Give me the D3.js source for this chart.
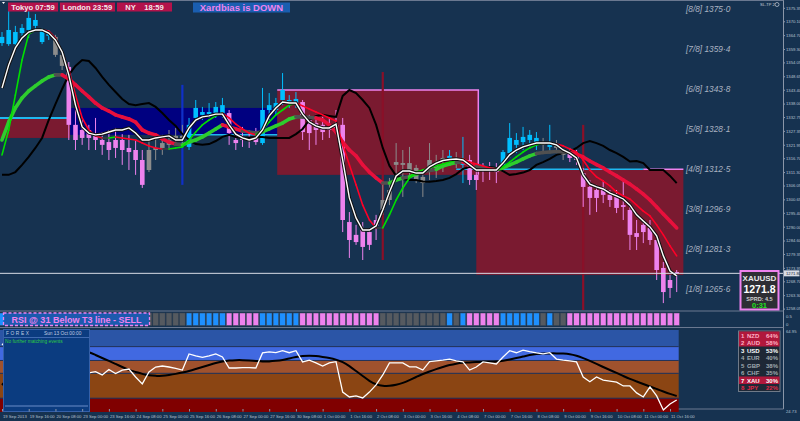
<!DOCTYPE html>
<html><head><meta charset="utf-8">
<script src="https://cdn.jsdelivr.net/npm/d3@7"></script>
<style>body{margin:0;background:#163250;} svg{display:block;font-family:"Liberation Sans",Arial,sans-serif;}</style>
</head><body><svg id="c" width="800" height="421"></svg>
<script>
// ---------------- DATA ----------------
const timeLabels = ["19 Sep 2013","19 Sep 16:00","20 Sep 08:00","23 Sep 00:00","23 Sep 16:00","24 Sep 08:00","25 Sep 00:00","25 Sep 16:00","26 Sep 08:00","27 Sep 00:00","27 Sep 16:00","30 Sep 08:00","1 Oct 00:00","1 Oct 16:00","2 Oct 08:00","3 Oct 00:00","3 Oct 16:00","4 Oct 08:00","7 Oct 00:00","7 Oct 16:00","8 Oct 08:00","9 Oct 00:00","9 Oct 16:00","10 Oct 08:00","11 Oct 00:00","11 Oct 16:00"];

const open  = [1361.6,1361.2,1365.9,1365.5,1366.7,1370.6,1366.7,1364.4,1364.0,1357.0,1352.3,1329.7,1324.6,1327.7,1325.4,1323.8,1323.0,1320.7,1323.8,1320.7,1319.9,1316.0,1312.1,1319.9,1320.7,1321.9,1323.8,1325.4,1321.1,1332.4,1333.6,1333.9,1333.6,1334.3,1334.3,1323.8,1324.6,1325.0,1324.6,1322.6,1335.5,1335.5,1339.4,1338.2,1338.2,1338.6,1331.6,1330.4,1329.7,1328.5,1329.7,1329.7,1291.8,1286.8,1288.7,1287.9,1292.6,1296.5,1300.4,1314.1,1314.8,1312.1,1312.9,1309.4,1312.1,1314.8,1315.2,1316.0,1316.8,1314.1,1316.0,1310.2,1313.7,1312.9,1312.1,1314.1,1318.7,1321.9,1323.0,1323.8,1322.6,1322.6,1321.1,1321.9,1319.1,1318.7,1317.6,1310.9,1305.5,1304.3,1305.1,1302.4,1301.6,1298.4,1296.5,1287.5,1290.7,1289.5,1284.8,1273.9,1269.2,1272.3];
const high  = [1365.9,1374.5,1368.3,1369.0,1374.5,1372.9,1367.5,1366.7,1364.8,1358.1,1354.2,1335.5,1331.6,1329.7,1332.4,1326.9,1327.7,1328.5,1326.1,1325.8,1323.8,1319.9,1323.8,1325.8,1325.8,1327.7,1328.5,1329.7,1332.4,1339.4,1336.7,1338.2,1338.6,1340.2,1335.5,1325.8,1328.9,1327.7,1328.5,1344.1,1342.1,1340.2,1349.9,1341.3,1342.5,1339.4,1333.6,1333.6,1332.8,1332.4,1335.5,1332.4,1295.7,1290.7,1291.8,1289.5,1294.6,1307.0,1309.0,1322.6,1319.9,1321.1,1314.1,1312.1,1322.6,1318.0,1319.9,1319.9,1319.1,1325.0,1318.0,1312.9,1314.8,1315.2,1314.8,1319.9,1330.4,1326.5,1328.9,1327.7,1326.9,1324.6,1329.7,1323.8,1320.7,1320.7,1319.9,1312.9,1308.2,1306.3,1308.2,1304.3,1304.3,1308.2,1298.4,1292.6,1292.6,1292.6,1286.8,1276.2,1271.2,1273.1];
const low   = [1360.5,1360.5,1359.7,1364.4,1363.6,1366.7,1361.2,1362.8,1356.2,1351.1,1323.8,1319.9,1321.9,1319.9,1319.9,1318.0,1316.0,1316.8,1314.1,1312.1,1310.2,1305.1,1311.3,1316.0,1318.0,1319.9,1321.9,1321.9,1319.9,1330.8,1331.6,1332.4,1332.4,1332.4,1321.9,1319.9,1321.1,1320.7,1321.9,1321.9,1331.6,1333.6,1337.4,1336.3,1336.3,1323.8,1319.9,1321.9,1323.8,1324.6,1326.5,1287.9,1277.8,1282.9,1277.0,1280.9,1284.8,1294.6,1298.4,1308.2,1301.6,1309.0,1307.0,1301.6,1308.2,1309.0,1311.3,1314.1,1312.9,1307.0,1306.3,1304.3,1307.4,1308.2,1307.0,1311.3,1316.8,1318.7,1319.9,1320.7,1319.9,1319.1,1319.1,1318.7,1316.0,1315.2,1314.1,1297.7,1294.6,1295.7,1299.2,1297.7,1295.3,1292.6,1280.9,1280.9,1283.6,1282.9,1269.2,1260.2,1262.2,1264.5];
const close = [1364.0,1366.7,1361.2,1367.5,1371.4,1368.3,1362.0,1365.1,1357.0,1352.7,1329.7,1323.8,1327.7,1324.6,1323.8,1321.9,1319.9,1323.8,1319.9,1319.1,1316.0,1306.3,1319.9,1320.7,1322.6,1323.8,1325.4,1324.6,1329.7,1336.3,1334.7,1334.7,1336.7,1337.4,1326.5,1322.6,1323.8,1323.8,1323.0,1335.5,1337.4,1338.2,1343.3,1339.4,1339.8,1326.9,1326.5,1327.7,1326.9,1327.7,1328.5,1292.6,1284.8,1284.0,1282.1,1282.9,1290.3,1300.4,1304.3,1315.2,1314.1,1314.8,1308.2,1307.0,1316.0,1312.1,1316.8,1317.6,1316.0,1316.0,1308.2,1308.2,1312.1,1312.1,1311.3,1319.1,1324.6,1323.8,1325.0,1325.8,1324.6,1321.9,1322.6,1320.7,1318.0,1316.8,1316.0,1305.5,1301.2,1301.2,1302.4,1300.4,1297.3,1297.7,1286.8,1286.0,1287.9,1284.8,1273.1,1264.5,1266.1,1271.8];
// candle / strip state: B = up (blue), P = down (pink), G = neutral (gray)
const barState = "BBBBBBBBGGPPPPPPPPPPPPGGGGGGBBBBBBPPPPPBBBBBBPPPPPPPPPPPPGGGGGGGGGGBGBPPPPPBBBBBBGBGGPPPPPPPPPPPPPPPPP".split("");

const fastLine = [1344.1,1353.0,1359.7,1363.6,1365.9,1366.7,1366.7,1365.5,1362.8,1358.1,1349.2,1337.4,1328.9,1326.5,1325.8,1326.1,1326.9,1327.7,1327.7,1328.5,1326.5,1323.8,1323.8,1324.6,1325.0,1325.4,1323.8,1323.8,1328.5,1331.6,1332.8,1333.2,1333.9,1333.9,1329.7,1326.1,1324.6,1323.8,1324.6,1327.7,1333.2,1336.3,1338.6,1338.2,1338.2,1333.9,1330.8,1329.3,1328.5,1328.5,1330.0,1316.0,1301.2,1293.4,1288.7,1288.7,1290.3,1296.5,1303.5,1309.8,1311.7,1311.7,1310.9,1310.9,1313.3,1314.8,1315.8,1316.2,1316.4,1316.0,1314.1,1312.1,1312.1,1312.1,1312.1,1314.8,1318.0,1319.9,1321.1,1321.9,1322.6,1322.6,1322.6,1321.9,1319.9,1318.7,1316.8,1310.2,1306.6,1305.5,1304.7,1303.1,1302.0,1300.8,1298.4,1294.6,1292.2,1289.9,1286.4,1278.6,1272.7,1270.8];
const thinMA = [1318.0,1327.7,1341.3,1355.0,1365.1,1366.7,1366.7,1366.3,1363.6,1358.1,1351.1,1341.3,1332.4,1327.7,1325.4,1324.6,1324.6,1325.0,1324.6,1324.2,1323.8,1322.6,1321.5,1320.7,1320.3,1320.3,1320.7,1321.1,1323.8,1326.9,1329.7,1331.6,1333.2,1334.3,1332.4,1330.0,1328.1,1326.5,1325.8,1327.7,1330.8,1333.6,1335.5,1337.4,1338.2,1337.1,1335.9,1334.7,1333.6,1332.4,1331.2,1321.9,1314.1,1306.3,1298.4,1292.6,1289.5,1289.5,1294.6,1300.4,1305.1,1309.0,1311.3,1312.1,1312.9,1313.7,1314.4,1315.2,1316.0,1316.4,1315.2,1314.4,1313.7,1312.9,1312.5,1313.3,1315.2,1317.2,1319.1,1320.7,1321.9,1322.6,1322.6,1322.2,1321.5,1320.3,1319.1,1316.0,1312.1,1309.4,1307.8,1305.9,1303.5,1302.0,1300.8,1298.4,1296.1,1294.2,1290.7,1286.8,1282.5,1278.6];
const thickMA = [1323.8,1330.8,1336.3,1340.2,1342.9,1344.9,1346.8,1348.4,1349.2,1349.2,1347.6,1345.3,1342.9,1340.6,1338.2,1336.3,1335.1,1333.6,1332.8,1332.0,1330.8,1327.7,1326.5,1325.8,1324.2,1323.0,1322.2,1321.9,1323.0,1323.8,1325.0,1326.5,1328.1,1329.7,1328.9,1328.1,1327.3,1326.9,1326.5,1327.0,1328.1,1329.3,1330.4,1332.0,1332.8,1332.8,1332.6,1332.4,1331.6,1329.7,1326.9,1323.0,1319.9,1317.6,1314.1,1311.3,1309.0,1307.0,1307.0,1308.2,1309.0,1309.5,1310.5,1311.5,1311.9,1312.3,1313.7,1314.4,1315.0,1315.2,1314.1,1313.5,1313.1,1312.7,1312.3,1312.9,1314.1,1315.2,1316.4,1317.6,1318.5,1318.9,1319.1,1319.3,1319.1,1318.9,1318.3,1317.2,1315.6,1314.2,1312.9,1311.3,1309.8,1308.2,1306.6,1304.7,1302.7,1300.4,1297.7,1294.9,1292.2,1289.5];
const blackLine = [1310.2,1310.2,1311.3,1314.1,1317.2,1320.7,1324.6,1331.6,1337.8,1343.7,1349.2,1352.7,1355.0,1354.6,1351.9,1348.4,1345.3,1342.5,1339.8,1337.8,1337.4,1337.8,1338.2,1336.7,1334.3,1331.6,1329.3,1326.1,1323.8,1322.2,1321.9,1322.2,1323.4,1325.0,1325.8,1325.0,1324.6,1324.8,1325.0,1325.0,1324.6,1324.6,1324.6,1324.6,1326.1,1328.1,1331.6,1333.2,1333.6,1333.2,1332.8,1341.0,1343.3,1342.1,1339.4,1336.3,1329.7,1320.7,1313.7,1309.8,1308.6,1308.2,1308.2,1307.6,1307.5,1307.8,1308.2,1309.0,1310.5,1312.5,1313.3,1312.9,1313.3,1313.3,1312.9,1311.7,1310.2,1310.5,1311.1,1312.1,1314.1,1315.2,1316.4,1318.0,1318.7,1319.3,1320.7,1322.6,1323.4,1322.6,1321.5,1319.9,1318.7,1317.2,1315.4,1315.6,1314.8,1312.1,1312.1,1312.1,1309.8,1307.0];

const rsiValues = [57.6,61.0,59.1,60.0,62.5,61.5,57.6,57.6,52.7,49.3,38.0,40.4,44.4,43.9,44.5,42.9,45.6,43.6,45.3,45.8,41.9,38.5,44.4,46.8,47.3,46.8,46.1,45.3,53.2,52.2,51.5,52.2,53.2,51.7,46.3,46.3,46.5,46.5,46.3,53.7,54.2,53.9,54.8,53.8,54.8,49.3,50.2,48.8,47.3,48.8,49.4,34.5,32.1,32.6,31.6,34.5,38.0,42.9,48.8,48.8,48.8,46.9,46.9,45.3,49.4,49.8,50.2,50.7,49.8,49.3,45.3,46.8,49.3,48.8,48.3,51.7,54.8,53.8,55.1,54.3,53.7,53.2,53.8,50.7,50.2,49.8,49.3,41.9,39.6,41.9,40.4,39.9,39.4,37.5,37.5,34.1,32.1,37.0,32.6,25.7,28.7,30.6];
const rsiSignal = [38.0,41.4,45.3,48.8,51.7,53.7,55.1,56.1,56.6,56.6,56.1,55.6,54.9,54.2,52.7,51.2,49.8,48.3,46.8,45.3,44.4,43.4,42.6,42.4,42.5,42.9,43.4,44.1,44.8,45.8,46.8,47.8,48.8,49.5,50.0,50.2,50.2,50.0,49.8,49.5,49.5,49.8,50.2,51.0,51.7,52.2,52.4,52.2,51.7,51.2,50.5,49.3,47.3,44.8,42.4,39.9,38.2,37.5,37.5,38.0,38.9,40.4,41.9,43.4,44.6,45.8,46.8,47.8,48.5,48.9,49.0,49.3,49.3,49.4,49.5,49.8,50.5,51.2,51.9,52.7,53.2,53.4,53.5,53.5,53.4,53.2,52.4,51.2,49.8,48.3,46.8,45.3,43.9,42.4,40.9,39.7,38.5,37.2,36.0,34.8,33.6,32.6];
const rsiBandLevels = [64.95,56.8,50.0,43.7,31.5,24.73];

const murreyNames  = ["[8/8]","[7/8]","[6/8]","[5/8]","[4/8]","[3/8]","[2/8]","[1/8]"];
const murreyLevels = [1375.0,1359.4,1343.8,1328.1,1312.5,1296.9,1281.3,1265.6];
const priceTicks = [1375.35,1370.10,1364.70,1359.30,1354.05,1348.65,1343.40,1338.00,1332.75,1327.35,1321.95,1316.70,1311.30,1306.05,1300.65,1295.40,1290.00,1284.60,1279.35,1273.95,1268.70,1263.30,1258.05];

// zones: start bar, end bar, top price, bottom price, kind
const zoneStart = [-1, 10.2, 41.2, 71.0];
const zoneEnd   = [10.2, 41.2, 71.3, 102];
const zoneTop   = [1332.4, 1336.3, 1343.3, 1312.4];
const zoneBottom= [1324.6, 1325.8, 1310.2, 1271.2];
const zoneKind  = ["sell","buy","sell","sell"];

const markerBar  = [27, 57, 87];
const markerHigh = [1345.3, 1350.3, 1329.7];
const markerLow  = [1306.3, 1277.0, 1257.5];
const markerKind = ["buy","sell","sell"];

const sessions = ["Tokyo 07:59","London 23:59","NY    18:59"];
const strengthRank = ["1","2","3","4","5","6","7","8"];
const strengthCcy  = ["NZD","AUD","USD","EUR","GBP","CHF","XAU","JPY"];
const strengthPct  = [64,58,53,40,38,35,30,22];

// ---------------- DRAW ----------------
const svg = d3.select("#c");
const BG = "#163250";
svg.append("rect").attr("width",800).attr("height",421).attr("fill",BG);

const n = close.length;
const x = d3.scaleLinear().domain([0,101]).range([2,676.7]);
const y = d3.scaleLinear().domain([1258.05,1375.35]).range([308.6,7.8]);
const yr = d3.scaleLinear().domain([24.73,64.95]).range([412,330]);

svg.append("clipPath").attr("id","mc").append("rect").attr("x",0).attr("y",0).attr("width",783).attr("height",310.5);
const main = svg.append("g").attr("clip-path","url(#mc)");

// zones
zoneStart.forEach((s,k)=>{
  main.append("rect").attr("x",x(s)).attr("y",y(zoneTop[k]))
    .attr("width",x(zoneEnd[k])-x(s)).attr("height",y(zoneBottom[k])-y(zoneTop[k]))
    .attr("fill",zoneKind[k]==="buy"?"#000080":"#7a1a30");
});
main.append("line").attr("x1",x(zoneStart[0])).attr("x2",x(zoneEnd[0])).attr("y1",y(zoneTop[0])).attr("y2",y(zoneTop[0])).attr("stroke","#1fb8f0").attr("stroke-width",2);
main.append("line").attr("x1",x(27)).attr("x2",x(zoneEnd[1])).attr("y1",y(zoneBottom[1])).attr("y2",y(zoneBottom[1])).attr("stroke","#1fb8f0").attr("stroke-width",1.5);
main.append("polyline").attr("points",[[x(zoneStart[2]),y(zoneTop[2])],[x(zoneEnd[2]),y(zoneTop[2])],[x(zoneEnd[2]),y(zoneBottom[2])]].map(p=>p.join(",")).join(" "))
  .attr("fill","none").attr("stroke","#ee82ee").attr("stroke-width",1.5);
main.append("line").attr("x1",x(68)).attr("x2",x(96)).attr("y1",y(zoneTop[3])).attr("y2",y(zoneTop[3])).attr("stroke","#1fb8f0").attr("stroke-width",1.5);
main.append("line").attr("x1",x(96)).attr("x2",x(102)).attr("y1",y(zoneTop[3])).attr("y2",y(zoneTop[3])).attr("stroke","#ee82ee").attr("stroke-width",1.5);

// markers
markerBar.forEach((b,k)=>{
  main.append("line").attr("x1",x(b)).attr("x2",x(b)).attr("y1",y(markerHigh[k])).attr("y2",y(markerLow[k]))
    .attr("stroke",markerKind[k]==="buy"?"#1030c8":"#8a1028").attr("stroke-width",2.2);
});

// candles
const stCol = {B:"#00bfff",P:"#ee82ee",G:"#8c8c8c"};
const cg = main.append("g");
d3.range(n).forEach(i=>{
  const c = stCol[barState[i]];
  cg.append("line").attr("x1",x(i)).attr("x2",x(i)).attr("y1",y(high[i])).attr("y2",y(low[i])).attr("stroke",c).attr("stroke-width",1);
  const t = y(Math.max(open[i],close[i])), b = y(Math.min(open[i],close[i]));
  cg.append("rect").attr("x",x(i)-2.3).attr("y",t).attr("width",4.6).attr("height",Math.max(1,b-t)).attr("fill",c);
});

// lines
const line = d3.line().x((d,i)=>x(i)).y(d=>y(d));
main.append("path").attr("d",line(blackLine)).attr("fill","none").attr("stroke","#000").attr("stroke-width",2);

function slopeLine(vals, w, thr, cols){
  for(let i=0;i<vals.length-1;i++){
    const d = vals[i+1]-vals[i];
    const c = d>thr?cols[0]:(d<-thr?cols[1]:cols[2]);
    main.append("line").attr("x1",x(i)).attr("y1",y(vals[i])).attr("x2",x(i+1)).attr("y2",y(vals[i+1]))
      .attr("stroke",c).attr("stroke-width",w).attr("stroke-linecap","round");
  }
}
slopeLine(thickMA,3.6,0.5,["#2ecc2e","#e8103c","#505050"]);
slopeLine(thinMA,1.6,0.3,["#00e000","#ff0028","#404040"]);
main.append("path").attr("d",line(fastLine)).attr("fill","none").attr("stroke","#111").attr("stroke-width",3.4);
main.append("path").attr("d",line(fastLine)).attr("fill","none").attr("stroke","#fff").attr("stroke-width",1.4);

// bid line
main.append("line").attr("x1",0).attr("x2",783).attr("y1",y(close[n-1])).attr("y2",y(close[n-1])).attr("stroke","#d8dde6").attr("stroke-width",1);

// murrey labels
murreyLevels.forEach((m,k)=>{
  main.append("text").attr("x",686).attr("y",y(m)+3).attr("font-size",8.3).attr("font-style","italic")
    .attr("fill","#aab3c2")
    .text(murreyNames[k]+" "+m.toFixed(1).replace(".","·"));
});

// right price axis
const ax = d3.axisRight(y).tickValues(priceTicks).tickFormat(d3.format(".2f")).tickSize(2);
const axg = svg.append("g").attr("transform","translate(783,0)").call(ax);
axg.select(".domain").remove();
axg.selectAll("line").attr("stroke","#8a96a8");
axg.selectAll("text").attr("font-size",4.2).attr("fill","#b8c2d0").attr("x",3);
// current price label
svg.append("rect").attr("x",784).attr("y",y(close[n-1])-3).attr("width",15.5).attr("height",6).attr("fill","#d8dde6");
svg.append("text").attr("x",786).attr("y",y(close[n-1])+1.6).attr("font-size",4.2).attr("fill","#223").text(close[n-1].toFixed(2));

// frame lines
svg.append("line").attr("x1",783.5).attr("x2",783.5).attr("y1",0).attr("y2",409).attr("stroke","#8a96a8");
[311,327.5,409].forEach(v=>svg.append("line").attr("x1",0).attr("x2",783.5).attr("y1",v).attr("y2",v).attr("stroke","#6a7890"));
svg.append("line").attr("x1",0).attr("x2",783.5).attr("y1",0.5).attr("y2",0.5).attr("stroke","#6a7890");

// session boxes
const sessX=[8,60,117], sessW=[50,55,55];
sessions.forEach((s,k)=>{
  svg.append("rect").attr("x",sessX[k]).attr("y",2.5).attr("width",sessW[k]).attr("height",9).attr("fill","#b3124b");
  svg.append("text").attr("x",sessX[k]+sessW[k]/2).attr("y",10).attr("text-anchor","middle").attr("font-size",7.6).attr("font-weight","bold")
   .attr("fill","#f4e8ec").style("white-space","pre").text(s);
});
svg.append("rect").attr("x",193).attr("y",2.5).attr("width",97).attr("height",10).attr("fill","#1a5eb0");
svg.append("text").attr("x",241.5).attr("y",11).attr("text-anchor","middle").attr("font-size",9.5).attr("font-weight","bold").attr("fill","#ee82ee").text("Xardbias is DOWN");
svg.append("path").attr("d","M2,2 L5,2 L3.5,4 Z").attr("fill","#fff");
svg.append("text").attr("x",760).attr("y",6).attr("font-size",4).attr("fill","#c8d0dc").text("SL-TP 2");
svg.append("circle").attr("cx",777).attr("cy",4.5).attr("r",2).attr("fill","none").attr("stroke","#c8d0dc").attr("stroke-width",0.7);

// XAUUSD box
svg.append("rect").attr("x",740.5).attr("y",271).attr("width",38).attr("height",38.5).attr("fill","#2e2e34").attr("stroke","#ee82ee").attr("stroke-width",2);
svg.append("text").attr("x",759.5).attr("y",281).attr("text-anchor","middle").attr("font-size",8).attr("font-weight","bold").attr("fill","#e8e8e8").text("XAUUSD");
svg.append("text").attr("x",759.5).attr("y",293).attr("text-anchor","middle").attr("font-size",10.5).attr("font-weight","bold").attr("fill","#ffffff").text(close[n-1].toFixed(1));
svg.append("text").attr("x",759.5).attr("y",300.5).attr("text-anchor","middle").attr("font-size",5.5).attr("font-weight","bold").attr("fill","#d0d0d0").text("SPRD: 4.5");
svg.append("text").attr("x",759.5).attr("y",308).attr("text-anchor","middle").attr("font-size",7.5).attr("font-weight","bold").attr("fill","#20e020").text("0:31");

// ---------- strip ----------
d3.range(n).forEach(i=>{
  svg.append("rect").attr("x",x(i)-2.8).attr("y",313).attr("width",5.6).attr("height",12.5)
    .attr("fill",barState[i]==="B"?"#1e90ff":barState[i]==="P"?"#ee82ee":"#555a60")
    .attr("stroke","#3a4450").attr("stroke-width",0.5);
});
svg.append("rect").attr("x",3.5).attr("y",313).attr("width",146).attr("height",12.5).attr("fill","#1c5aae")
  .attr("stroke","#ee82ee").attr("stroke-width",1.3).attr("stroke-dasharray","3,2");
svg.append("text").attr("x",76.5).attr("y",322.8).attr("text-anchor","middle").attr("font-size",9).attr("font-weight","bold").attr("fill","#ee82ee").text("RSI @ 31 Below T3 line - SELL");
svg.append("text").attr("x",786).attr("y",318).attr("font-size",4.2).attr("fill","#b8c2d0").text("0.5");
svg.append("text").attr("x",786).attr("y",326).attr("font-size",4.2).attr("fill","#b8c2d0").text("0");

// ---------- lower RSI panel ----------
const bandCols = ["#2b55a6","#4169e1","#a0522d","#8b4513","#800000"];
for(let k=0;k<rsiBandLevels.length-1;k++){
  svg.append("rect").attr("x",0).attr("y",yr(rsiBandLevels[k])).attr("width",x(101)+2)
    .attr("height",yr(rsiBandLevels[k+1])-yr(rsiBandLevels[k])).attr("fill",bandCols[k]);
  if(k>0) svg.append("line").attr("x1",0).attr("x2",x(101)+2).attr("y1",yr(rsiBandLevels[k])).attr("y2",yr(rsiBandLevels[k])).attr("stroke","#22335a").attr("stroke-width",1);
}
const rline = d3.line().x((d,i)=>x(i)).y(d=>yr(d)).curve(d3.curveBasis);
svg.append("path").attr("d",rline(rsiSignal)).attr("fill","none").attr("stroke","#000").attr("stroke-width",2);
svg.append("path").attr("d",d3.line().x((d,i)=>x(i)).y(d=>yr(d))(rsiValues)).attr("fill","none").attr("stroke","#fff").attr("stroke-width",1.3);
svg.append("text").attr("x",786).attr("y",333).attr("font-size",4.2).attr("fill","#b8c2d0").text("64.95");
svg.append("text").attr("x",786).attr("y",413).attr("font-size",4.2).attr("fill","#b8c2d0").text("24.73");

// FOREX news panel
svg.append("rect").attr("x",3.5).attr("y",329.5).attr("width",86).attr("height",82).attr("fill","#0b3c80").attr("stroke","#3560a8").attr("stroke-width",1);
svg.append("text").attr("x",6).attr("y",335).attr("font-size",4.8).attr("fill","#c0cce0").attr("letter-spacing",1.6).text("FOREX");
svg.append("text").attr("x",44).attr("y",335).attr("font-size",4.8).attr("fill","#c0cce0").text("Sun 13 Oct 00:00");
svg.append("line").attr("x1",4).attr("x2",89).attr("y1",337.5).attr("y2",337.5).attr("stroke","#3f6ab0");
svg.append("text").attr("x",5).attr("y",342.5).attr("font-size",4.8).attr("fill","#2ecc40").text("No further matching events");
svg.append("line").attr("x1",5).attr("x2",88).attr("y1",406).attr("y2",406).attr("stroke","#6a8cc8");

// currency strength box
svg.append("rect").attr("x",738.5).attr("y",331).attr("width",41.5).attr("height",60.5).attr("fill","#1e2836").attr("stroke","#707a88").attr("stroke-width",1);
strengthCcy.forEach((c,k)=>{
  const yy = 331.5+k*7.5;
  const red = (k<2||k===6);
  if(red) svg.append("rect").attr("x",739).attr("y",yy).attr("width",40.5).attr("height",7.5).attr("fill","#b0183c");
  const col = k<2?"#ffb0c4":k===2?"#ffffff":k===6?"#ffffff":k===7?"#e02848":"#a0a8b0";
  const g = svg.append("g").attr("font-size",6).attr("font-weight","bold").attr("fill",col);
  g.append("text").attr("x",741).attr("y",yy+6).text(strengthRank[k]);
  g.append("text").attr("x",747).attr("y",yy+6).text(c);
  g.append("text").attr("x",778).attr("y",yy+6).attr("text-anchor","end").text(strengthPct[k]+"%");
});

// time axis
const tax = d3.axisBottom(x).tickValues(d3.range(0,n,4)).tickFormat((d,i)=>timeLabels[i]).tickSize(2.5);
const tg = svg.append("g").attr("transform","translate(0,409)").call(tax);
tg.select(".domain").remove();
tg.selectAll("line").attr("stroke","#8a96a8");
tg.selectAll("text").attr("font-size",4.2).attr("fill","#b8c2d0").attr("text-anchor","start").attr("dy","0.9em").attr("dx",0.5);
</script></body></html>
